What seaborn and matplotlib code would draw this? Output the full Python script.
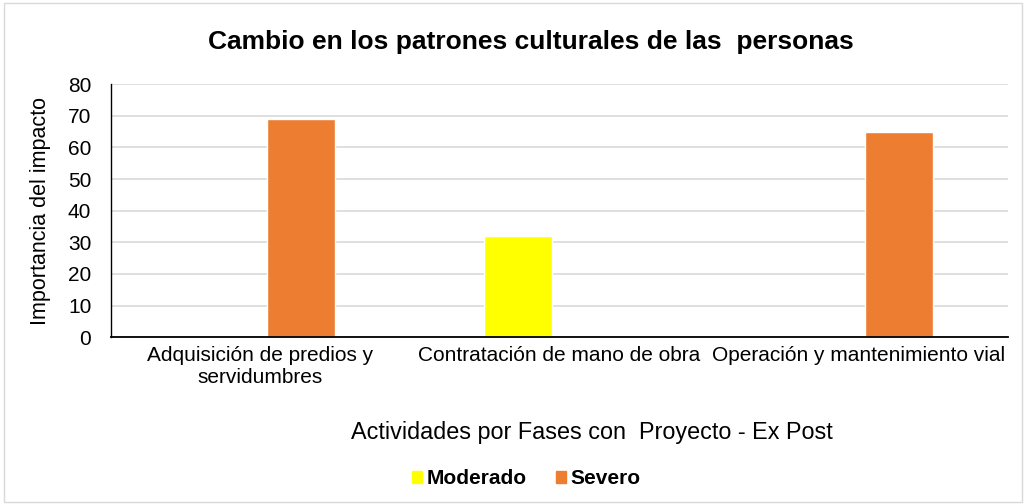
import matplotlib
matplotlib.use('Agg')
import matplotlib.pyplot as plt
import seaborn as sns
import pandas as pd
from matplotlib.patches import Rectangle

categories = ['Adquisición de predios y\nservidumbres',
              'Contratación de mano de obra',
              'Operación y mantenimiento vial']
moderado = [None, 32, None]
severo = [69, None, 65]
series_names = ['Moderado', 'Severo']
colors = ['#FFFF00', '#ED7D31']

rows = []
for i, cat in enumerate(categories):
    rows.append({'cat': cat, 'serie': 'Moderado', 'valor': moderado[i]})
    rows.append({'cat': cat, 'serie': 'Severo', 'valor': severo[i]})
df = pd.DataFrame(rows)

sns.set_theme(style='white')
plt.rcParams['font.family'] = ['Liberation Sans', 'DejaVu Sans']
plt.rcParams['text.color'] = 'black'
plt.rcParams['axes.labelcolor'] = 'black'

fig = plt.figure(figsize=(10.26, 5.04), dpi=100)
ax = fig.add_axes([0.108, 0.331, 0.874, 0.502])

sns.barplot(data=df, x='cat', y='valor', hue='serie', hue_order=series_names,
            palette=colors, width=0.55, gap=0.17, saturation=1, ax=ax,
            legend=False, errorbar=None)

ax.set_ylim(0, 80)
ax.set_yticks(range(0, 81, 10))
ax.yaxis.grid(True, color='#D9D9D9', linewidth=1.2)
ax.set_axisbelow(True)
for s in ['top', 'right']:
    ax.spines[s].set_visible(False)
ax.spines['left'].set_color('black')
ax.spines['bottom'].set_color('black')
ax.spines['left'].set_linewidth(1)
ax.spines['bottom'].set_linewidth(1.3)
ax.tick_params(axis='both', length=0, labelsize=15, colors='black')
ax.tick_params(axis='y', pad=14)
ax.tick_params(axis='x', pad=6)

ax.set_xlabel('Actividades por Fases con  Proyecto - Ex Post', fontsize=16.8, labelpad=25)
ax.xaxis.label.set_x(0.537)
ax.set_ylabel('Importancia del impacto', fontsize=15.5, labelpad=12)
fig.text(0.517, 0.916, 'Cambio en los patrones culturales de las  personas',
         ha='center', va='center', fontsize=19, fontweight='bold')

handles = [Rectangle((0, 0), 1, 1, color=c) for c in colors]
leg = fig.legend(handles, series_names, loc='center', bbox_to_anchor=(0.513, 0.05),
                 ncol=2, frameon=False, prop={'weight': 'bold', 'size': 15},
                 handlelength=0.5, handleheight=0.5, handletextpad=0.2, columnspacing=1.4)

fig.patches.append(Rectangle((0.004, 0.004), 0.992, 0.99, transform=fig.transFigure,
                             fill=False, edgecolor='#D9D9D9', linewidth=1))

fig.savefig('out.png', dpi=100)
